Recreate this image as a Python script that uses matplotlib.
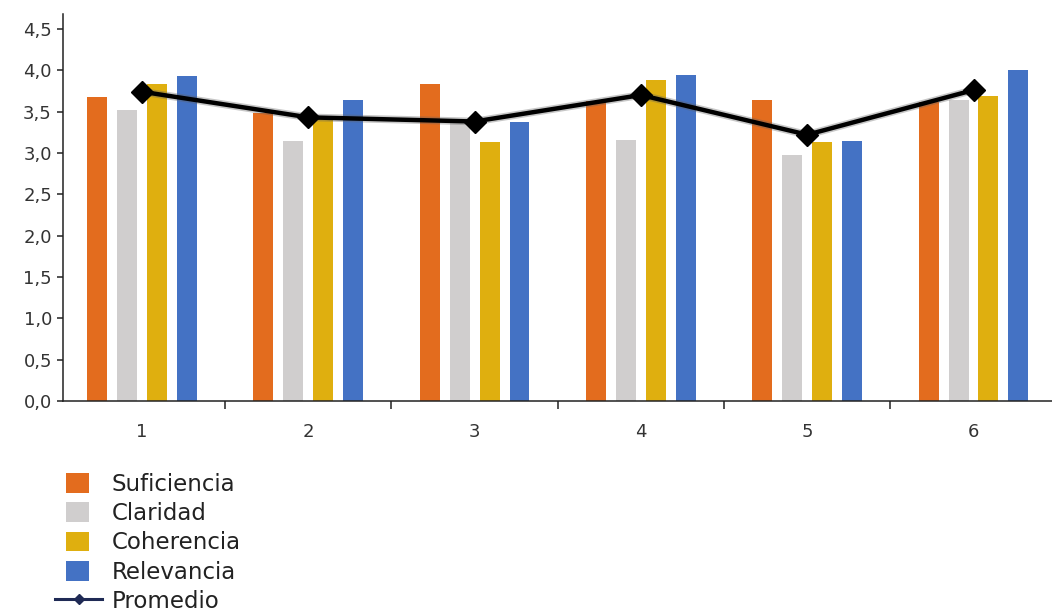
import matplotlib
matplotlib.use("Agg")
import matplotlib.pyplot as plt
import matplotlib.patheffects as pe
from matplotlib.patches import Rectangle, Patch
from matplotlib.lines import Line2D
from matplotlib.legend_handler import HandlerPatch
from matplotlib.ticker import FixedLocator, FuncFormatter
import numpy as np

categories = ["1", "2", "3", "4", "5", "6"]
series_names = ["Suficiencia", "Claridad", "Coherencia", "Relevancia"]
suficiencia = [3.68, 3.48, 3.83, 3.63, 3.64, 3.62]
claridad = [3.52, 3.15, 3.36, 3.16, 2.98, 3.64]
coherencia = [3.83, 3.43, 3.13, 3.88, 3.13, 3.69]
relevancia = [3.93, 3.64, 3.37, 3.94, 3.15, 4.00]
promedio = [3.74, 3.43, 3.38, 3.70, 3.22, 3.76]
y_ticks = [0.0, 0.5, 1.0, 1.5, 2.0, 2.5, 3.0, 3.5, 4.0, 4.5]

colors = ["#E36C1E", "#D0CECE", "#DFAF0F", "#4472C4"]
series = [suficiencia, claridad, coherencia, relevancia]

W, H = 1052, 612
fig = plt.figure(figsize=(W / 100, H / 100), dpi=100)
ax = fig.add_axes([63 / W, (H - 401) / H, (W - 63) / W, (401 - 14) / H])

x = np.arange(len(categories))
offsets = [-0.27, -0.09, 0.09, 0.27]
bw = 0.12
for vals, col, off, name in zip(series, colors, offsets, series_names):
    ax.bar(x + off, vals, width=bw, color=col, label=name, zorder=2)

ax.plot(x, promedio, color="black", lw=3.2, zorder=4, solid_capstyle="round",
        path_effects=[pe.Stroke(linewidth=5.5, foreground="#606060", alpha=0.35),
                      pe.Normal()])
ax.plot(x, promedio, linestyle="none", marker="D", markersize=11,
        color="black", zorder=5)

ax.set_xlim(-0.475, 5.472)
ax.set_ylim(0, 4.68)

ax.spines["top"].set_visible(False)
ax.spines["right"].set_visible(False)
for s in ("left", "bottom"):
    ax.spines[s].set_color("#222222")
    ax.spines[s].set_linewidth(1.1)

ax.yaxis.set_major_locator(FixedLocator(y_ticks))
ax.yaxis.set_major_formatter(FuncFormatter(lambda v, p: f"{v:.1f}".replace(".", ",")))
ax.tick_params(axis="y", direction="out", length=4.5, width=1.1, color="#222222",
               pad=3.5, labelsize=13, labelcolor="#333333")

ax.set_xticks(x)
ax.set_xticklabels(categories)
ax.tick_params(axis="x", which="major", length=0, pad=16, labelsize=13,
               labelcolor="#333333")
ax.set_xticks(np.arange(0.5, len(categories) - 0.5, 1.0), minor=True)
ax.tick_params(axis="x", which="minor", direction="out", length=6, width=1.1,
               color="#222222")


def square_patch(legend, orig_handle, xdescent, ydescent, width, height, fontsize):
    return Rectangle((-xdescent + 0.23 * width, -ydescent), 0.48 * width, height)


handles = [Patch(facecolor=c, edgecolor="none") for c in colors]
handles.append(Line2D([0], [0], color="#1F2A55", lw=2.2, marker="D", markersize=5))
labels = series_names + ["Promedio"]
leg = fig.legend(handles, labels, loc="upper left",
                 bbox_to_anchor=(55 / W, 1 - 473 / H), frameon=False,
                 fontsize=16.5, handlelength=2.06, handleheight=0.95,
                 handletextpad=0.4, labelspacing=0.27, borderpad=0,
                 borderaxespad=0,
                 handler_map={Patch: HandlerPatch(patch_func=square_patch)})
for t in leg.get_texts():
    t.set_color("#222222")

fig.savefig("out.png", dpi=100)
